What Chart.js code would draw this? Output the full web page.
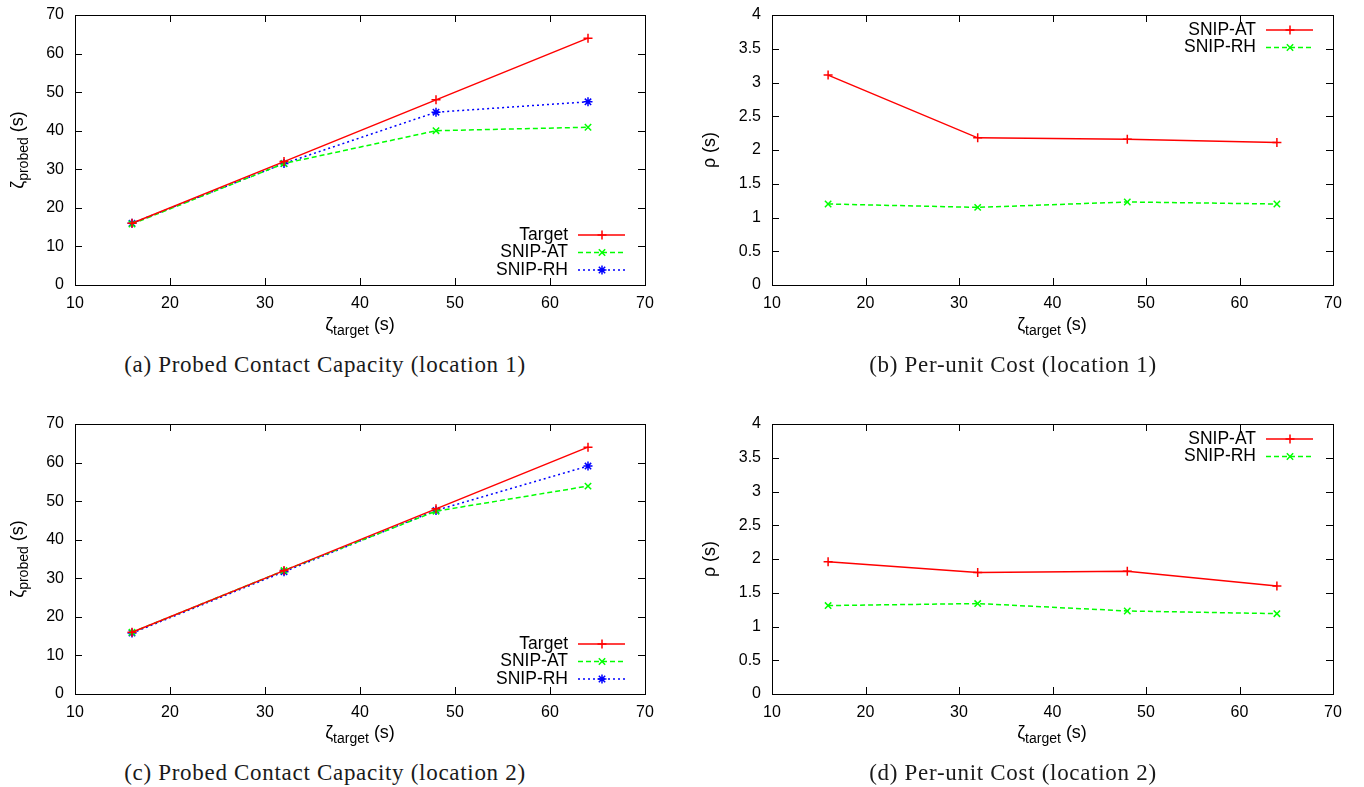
<!DOCTYPE html>
<html>
<head>
<meta charset="utf-8">
<script src="https://cdn.jsdelivr.net/npm/chart.js@4.4.1/dist/chart.umd.min.js"></script>
<style>
  body { margin: 0; background: #fff; width: 1364px; height: 787px; position: relative; overflow: hidden; }
  canvas { position: absolute; }
  .lbl { position: absolute; font-family: "Liberation Sans", Arial, sans-serif; font-size: 18px; color: #000; white-space: nowrap; transform: translate(-50%, -50%); }
  .lbl sub { font-size: 14px; vertical-align: -5px; }
  .rot { transform: translate(-50%, -50%) rotate(-90deg); }
  .cap { position: absolute; font-family: "Liberation Serif", "DejaVu Serif", serif; font-size: 23px; letter-spacing: 0.7px; color: #1a1a1a; white-space: nowrap; transform: translate(-50%, -50%); }
</style>
</head>
<body>
<canvas id="pa" width="680" height="340" style="left:0px;top:0px"></canvas>
<canvas id="pb" width="682" height="340" style="left:682px;top:0px"></canvas>
<canvas id="pc" width="680" height="340" style="left:0px;top:409px"></canvas>
<canvas id="pd" width="682" height="340" style="left:682px;top:409px"></canvas>

<div class="lbl" style="left:360px;top:326px">ζ<sub>target</sub> (s)</div>
<div class="lbl" style="left:1052px;top:326px">ζ<sub>target</sub> (s)</div>
<div class="lbl" style="left:360px;top:734px">ζ<sub>target</sub> (s)</div>
<div class="lbl" style="left:1052px;top:734px">ζ<sub>target</sub> (s)</div>
<div class="lbl rot" style="left:19px;top:150px">ζ<sub>probed</sub> (s)</div>
<div class="lbl rot" style="left:709px;top:150px">ρ (s)</div>
<div class="lbl rot" style="left:19px;top:559px">ζ<sub>probed</sub> (s)</div>
<div class="lbl rot" style="left:709px;top:559px">ρ (s)</div>

<div class="cap" style="left:325px;top:365px">(a) Probed Contact Capacity (location 1)</div>
<div class="cap" style="left:1013px;top:365px">(b) Per-unit Cost (location 1)</div>
<div class="cap" style="left:325px;top:773px">(c) Probed Contact Capacity (location 2)</div>
<div class="cap" style="left:1013px;top:773px">(d) Per-unit Cost (location 2)</div>

<script>
// tick labels
const xTicks = [10, 20, 30, 40, 50, 60, 70];
const capTicks = [0, 10, 20, 30, 40, 50, 60, 70];
const costTicks = [0, 0.5, 1, 1.5, 2, 2.5, 3, 3.5, 4];

// x values (zeta target, s)
const targetTimes = [16, 32, 48, 64];

// location 1
const probedTarget1 = [16, 32, 48, 64];
const probedAT1 = [15.8, 31.5, 40.0, 40.9];
const probedRH1 = [16.0, 31.5, 44.8, 47.5];
const costAT1 = [3.11, 2.18, 2.16, 2.11];
const costRH1 = [1.20, 1.15, 1.23, 1.20];

// location 2
const probedTarget2 = [16, 32, 48, 64];
const probedAT2 = [16.0, 32.0, 47.4, 53.9];
const probedRH2 = [15.8, 31.7, 47.6, 59.1];
const costAT2 = [1.96, 1.80, 1.82, 1.60];
const costRH2 = [1.31, 1.34, 1.23, 1.19];

const FONT = '"Liberation Sans", Arial, sans-serif';

function series(label, ys, color, dash, point) {
    return {
        label: label,
        data: targetTimes.map((x, i) => ({ x: x, y: ys[i] })),
        borderColor: color,
        backgroundColor: color,
        borderWidth: 1.5,
        borderDash: dash,
        pointStyle: point,
        pointRadius: 4.5,
        pointBorderWidth: 1.5,
        pointHoverRadius: 4.5,
        tension: 0
    };
}

// gnuplot-ish frame with inward mirrored ticks, plus legend
const gnuFrame = {
    id: 'gnuFrame',
    afterDraw(chart, args, opts) {
        const ctx = chart.ctx, a = chart.chartArea;
        const xs = chart.scales.x, ys = chart.scales.y;
        const tl = 7;
        ctx.save();
        ctx.strokeStyle = '#000';
        ctx.lineWidth = 1;
        ctx.beginPath();
        xs.ticks.forEach(t => {
            const px = Math.round(xs.getPixelForValue(t.value)) + 0.5;
            ctx.moveTo(px, a.bottom); ctx.lineTo(px, a.bottom - tl);
            ctx.moveTo(px, a.top); ctx.lineTo(px, a.top + tl);
        });
        ys.ticks.forEach(t => {
            const py = Math.round(ys.getPixelForValue(t.value)) + 0.5;
            ctx.moveTo(a.left, py); ctx.lineTo(a.left + tl, py);
            ctx.moveTo(a.right, py); ctx.lineTo(a.right - tl, py);
        });
        ctx.stroke();
        ctx.strokeRect(Math.round(a.left) + 0.5, Math.round(a.top) + 0.5,
            Math.round(a.right - a.left), Math.round(a.bottom - a.top));

        // legend
        ctx.font = '17.5px ' + FONT;
        ctx.fillStyle = '#000';
        ctx.textAlign = 'right';
        ctx.textBaseline = 'middle';
        chart.data.datasets.forEach((ds, i) => {
            const y = opts.bottom ? a.bottom - opts.rows[i] : a.top + opts.rows[i];
            ctx.fillText(ds.label, a.right - 77, y);
            ctx.save();
            ctx.strokeStyle = ds.borderColor;
            ctx.lineWidth = ds.borderWidth;
            ctx.setLineDash(ds.borderDash || []);
            ctx.beginPath();
            ctx.moveTo(a.right - 67, y);
            ctx.lineTo(a.right - 20, y);
            ctx.stroke();
            ctx.setLineDash([]);
            ctx.fillStyle = ds.borderColor;
            Chart.helpers.drawPoint(ctx, {
                pointStyle: ds.pointStyle, radius: ds.pointRadius,
                rotation: 0, borderWidth: ds.pointBorderWidth
            }, a.right - 43, y);
            ctx.restore();
        });
        ctx.restore();
    }
};

function makePanel(id, yTicks, yMax, yWidth, padRight, datasets, legendOpts) {
    return new Chart(document.getElementById(id), {
        type: 'line',
        data: { datasets: datasets },
        plugins: [gnuFrame],
        options: {
            responsive: false,
            animation: false,
            devicePixelRatio: 1,
            layout: { padding: { top: 15, right: padRight, left: 0, bottom: 0 } },
            plugins: {
                legend: { display: false },
                tooltip: { enabled: false },
                gnuFrame: legendOpts
            },
            scales: {
                x: {
                    type: 'linear',
                    min: 10, max: 70,
                    afterBuildTicks: s => { s.ticks = xTicks.map(v => ({ value: v })); },
                    afterFit: s => { s.height = 55; },
                    grid: { display: false },
                    border: { display: false },
                    ticks: {
                        padding: 1, maxRotation: 0, autoSkip: false,
                        color: '#000', font: { family: FONT, size: 16 },
                        callback: v => String(v)
                    }
                },
                y: {
                    type: 'linear',
                    min: 0, max: yMax,
                    afterBuildTicks: s => { s.ticks = yTicks.map(v => ({ value: v })); },
                    afterFit: s => { s.width = yWidth; },
                    grid: { display: false },
                    border: { display: false },
                    ticks: {
                        padding: 3, autoSkip: false,
                        color: '#000', font: { family: FONT, size: 16 },
                        callback: v => String(v)
                    }
                }
            }
        }
    });
}

const RED = '#ff0000', GREEN = '#00ff00', BLUE = '#0000ff';

makePanel('pa', capTicks, 70, 75, 35, [
    series('Target', probedTarget1, RED, [], 'cross'),
    series('SNIP-AT', probedAT1, GREEN, [5, 3], 'crossRot'),
    series('SNIP-RH', probedRH1, BLUE, [2, 3], 'star')
], { bottom: true, rows: [50, 32.5, 15] });

makePanel('pb', costTicks, 4, 90, 31, [
    series('SNIP-AT', costAT1, RED, [], 'cross'),
    series('SNIP-RH', costRH1, GREEN, [5, 3], 'crossRot')
], { bottom: false, rows: [15, 32.5] });

makePanel('pc', capTicks, 70, 75, 35, [
    series('Target', probedTarget2, RED, [], 'cross'),
    series('SNIP-AT', probedAT2, GREEN, [5, 3], 'crossRot'),
    series('SNIP-RH', probedRH2, BLUE, [2, 3], 'star')
], { bottom: true, rows: [50, 32.5, 15] });

makePanel('pd', costTicks, 4, 90, 31, [
    series('SNIP-AT', costAT2, RED, [], 'cross'),
    series('SNIP-RH', costRH2, GREEN, [5, 3], 'crossRot')
], { bottom: false, rows: [15, 32.5] });
</script>
</body>
</html>
